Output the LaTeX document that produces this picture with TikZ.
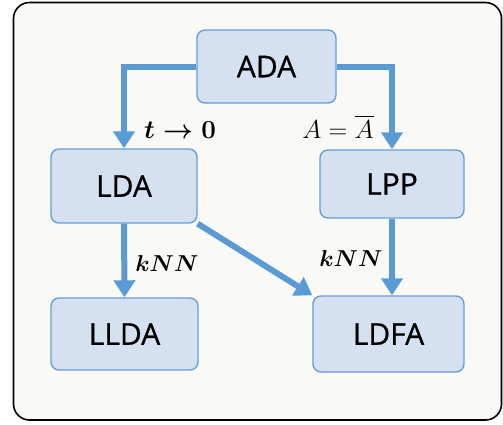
\RequirePackage{fix-cm}
\documentclass[tikz,border=0pt]{standalone}
\usepackage{fontspec}
\setmainfont{Open Sans}
\newfontfamily\stagefamily{Open Sans}[BoldFont={Open Sans}, BoldFeatures={FakeBold=0.7}]
\usepackage{amsmath}
\usetikzlibrary{arrows.meta}
\definecolor{framefill}{RGB}{249,250,246}
\definecolor{boxfill}{RGB}{213,224,240}
\definecolor{boxline}{RGB}{104,158,218}
\definecolor{flow}{RGB}{91,155,213}
\newcommand\bigcond{\fontsize{26}{28}\selectfont}
\newcommand\smallcond{\fontsize{23}{26}\selectfont}
\newcommand\stagefont{\stagefamily\bfseries\fontsize{30}{32}\selectfont}
\tikzset{
  stage/.style={draw=boxline, line width=1.4pt, fill=boxfill, rounded corners=8pt,
    inner sep=0pt, font=\stagefont},
  flowline/.style={draw=flow, line width=6pt,
    -{Triangle[length=17pt,width=21pt]}},
  condlabel/.style={anchor=base, inner sep=0pt}
}
\begin{document}
\begin{tikzpicture}[x=1pt,y=-1pt]
  \useasboundingbox (0,0) rectangle (503,424);
  % outer frame
  \draw[line width=1.6pt, fill=framefill, rounded corners=16pt] (13.5,2.5) rectangle (501.5,420);
  % stages
  \node[stage, minimum width=139pt, minimum height=73pt] (ADA) at (266.5,66.5) {ADA};
  \node[stage, minimum width=146pt, minimum height=74pt] (LDA) at (124,186) {LDA};
  \node[stage, minimum width=144pt, minimum height=68pt] (LPP) at (392,184) {LPP};
  \node[stage, minimum width=147pt, minimum height=72pt] (LLDA) at (124.5,334) {LLDA};
  \node[stage, minimum width=151pt, minimum height=76pt] (LDFA) at (388.5,334) {LDFA};
  % connectors
  \draw[flowline] (ADA.west) -| (LDA.north);
  \draw[flowline] (ADA.east) -| (LPP.north);
  \draw[flowline] (LDA.south) -- (LLDA.north);
  \draw[flowline] (LPP.south) -- (LPP.south |- LDFA.north);
  \draw[flowline] (LDA.south east) -- (LDFA.north west);
  % conditions
  \node[condlabel] (ctl) at (180,138) {\bigcond $\boldsymbol{t\rightarrow 0}$};
  \node[condlabel] (ctr) at (338,138) {\bigcond $A=\overline{A}$};
  \node[condlabel] (knl) at (167,271) {\smallcond $\boldsymbol{kNN}$};
  \node[condlabel] (knr) at (351,266) {\smallcond $\boldsymbol{kNN}$};
\end{tikzpicture}
\end{document}
